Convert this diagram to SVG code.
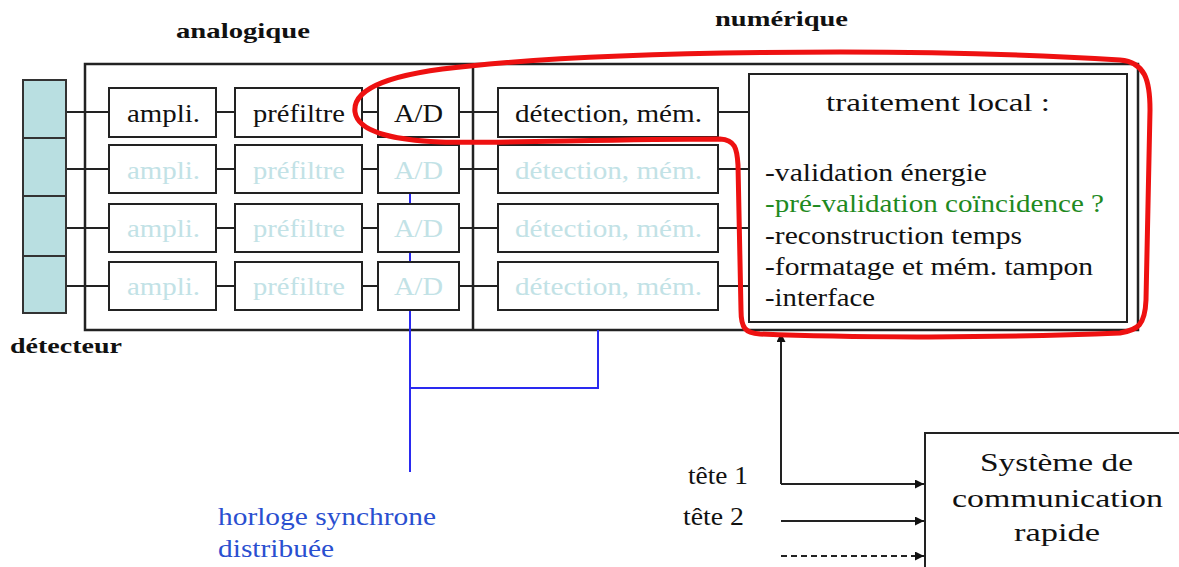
<svg xmlns="http://www.w3.org/2000/svg" width="1179" height="567" viewBox="0 0 1179 567">
<defs>
<style>
.t{font-family:"Liberation Serif","Times New Roman",serif;font-size:25px;fill:#111}
.lt{fill:#c2e2e6}
.b{font-weight:bold;font-size:22px}
.box{fill:#fff;stroke:#222;stroke-width:2}
.ln{stroke:#222;stroke-width:2;fill:none}
.blue{stroke:#2a2af0;stroke-width:2;fill:none}
.bt{fill:#2a4fd0}
.gr{fill:#1f8a1f}
</style>
<marker id="ah" viewBox="0 0 10 10" refX="10" refY="5" markerWidth="11" markerHeight="9" markerUnits="userSpaceOnUse" orient="auto">
<path d="M0,0 L10,5 L0,10 Z" fill="#111"/>
</marker>
</defs>
<rect width="1179" height="567" fill="#fff"/>

<g id="labels">
<text class="t b" x="176" y="38" textLength="134" lengthAdjust="spacingAndGlyphs">analogique</text>
<text class="t b" x="715" y="26" textLength="133" lengthAdjust="spacingAndGlyphs">numérique</text>
<text class="t b" x="10" y="353" textLength="112" lengthAdjust="spacingAndGlyphs">détecteur</text>
</g>

<g id="frame">
<rect x="85" y="64" width="1053" height="266" fill="#fff" stroke="#222" stroke-width="2.5"/>
<line x1="473" y1="64" x2="473" y2="330" stroke="#222" stroke-width="2.5"/>
</g>

<g id="connectors">
<g class="ln">
<path d="M66,112H109M216,112H235M362,112H378M459,112H498M718,112H749"/>
<path d="M66,169H109M216,169H235M362,169H378M459,169H498M718,169H749"/>
<path d="M66,228H109M216,228H235M362,228H378M459,228H498M718,228H749"/>
<path d="M66,286H109M216,286H235M362,286H378M459,286H498M718,286H749"/>
</g>
<path class="blue" d="M410,193V472M410,388H598V330"/>
<path class="ln" d="M781,484V333" marker-end="url(#ah)"/>
<path class="ln" d="M781,484H924" marker-end="url(#ah)"/>
<path class="ln" d="M781,521H924" marker-end="url(#ah)"/>
<path class="ln" d="M781,556H924" stroke-dasharray="6,4" marker-end="url(#ah)"/>
</g>

<g id="detecteur">
<rect x="23" y="80" width="43" height="233" fill="#b9dfe1" stroke="#333" stroke-width="2"/>
<path d="M23,138H66M23,196H66M23,256H66" stroke="#333" stroke-width="2"/>
</g>

<g id="row1">
<rect class="box" x="109" y="88" width="107" height="49"/>
<rect class="box" x="235" y="88" width="127" height="49"/>
<rect class="box" x="378" y="88" width="81" height="49"/>
<rect class="box" x="498" y="88" width="220" height="49"/>
<text class="t" x="127" y="122" textLength="73" lengthAdjust="spacingAndGlyphs">ampli.</text>
<text class="t" x="253" y="122" textLength="92" lengthAdjust="spacingAndGlyphs">préfiltre</text>
<text class="t" x="394" y="122" textLength="49" lengthAdjust="spacingAndGlyphs">A/D</text>
<text class="t" x="515" y="122" textLength="187" lengthAdjust="spacingAndGlyphs">détection, mém.</text>
</g>
<g id="row2">
<rect class="box" x="109" y="145" width="107" height="48"/>
<rect class="box" x="235" y="145" width="127" height="48"/>
<rect class="box" x="378" y="145" width="81" height="48"/>
<rect class="box" x="498" y="145" width="220" height="48"/>
<text class="t lt" x="127" y="179" textLength="73" lengthAdjust="spacingAndGlyphs">ampli.</text>
<text class="t lt" x="253" y="179" textLength="92" lengthAdjust="spacingAndGlyphs">préfiltre</text>
<text class="t lt" x="394" y="179" textLength="49" lengthAdjust="spacingAndGlyphs">A/D</text>
<text class="t lt" x="515" y="179" textLength="187" lengthAdjust="spacingAndGlyphs">détection, mém.</text>
</g>
<g id="row3">
<rect class="box" x="109" y="204" width="107" height="48"/>
<rect class="box" x="235" y="204" width="127" height="48"/>
<rect class="box" x="378" y="204" width="81" height="48"/>
<rect class="box" x="498" y="204" width="220" height="48"/>
<text class="t lt" x="127" y="237" textLength="73" lengthAdjust="spacingAndGlyphs">ampli.</text>
<text class="t lt" x="253" y="237" textLength="92" lengthAdjust="spacingAndGlyphs">préfiltre</text>
<text class="t lt" x="394" y="237" textLength="49" lengthAdjust="spacingAndGlyphs">A/D</text>
<text class="t lt" x="515" y="237" textLength="187" lengthAdjust="spacingAndGlyphs">détection, mém.</text>
</g>
<g id="row4">
<rect class="box" x="109" y="262" width="107" height="48"/>
<rect class="box" x="235" y="262" width="127" height="48"/>
<rect class="box" x="378" y="262" width="81" height="48"/>
<rect class="box" x="498" y="262" width="220" height="48"/>
<text class="t lt" x="127" y="295" textLength="73" lengthAdjust="spacingAndGlyphs">ampli.</text>
<text class="t lt" x="253" y="295" textLength="92" lengthAdjust="spacingAndGlyphs">préfiltre</text>
<text class="t lt" x="394" y="295" textLength="49" lengthAdjust="spacingAndGlyphs">A/D</text>
<text class="t lt" x="515" y="295" textLength="187" lengthAdjust="spacingAndGlyphs">détection, mém.</text>
</g>

<g id="traitement">
<rect class="box" x="749" y="74" width="378" height="248"/>
<text class="t" x="826" y="111" font-size="28" textLength="224" lengthAdjust="spacingAndGlyphs">traitement local :</text>
<text class="t" x="765" y="181" font-size="24" textLength="222" lengthAdjust="spacingAndGlyphs">-validation énergie</text>
<text class="t gr" x="765" y="212" font-size="24" textLength="339" lengthAdjust="spacingAndGlyphs">-pré-validation coïncidence ?</text>
<text class="t" x="765" y="244" font-size="24" textLength="257" lengthAdjust="spacingAndGlyphs">-reconstruction temps</text>
<text class="t" x="765" y="275" font-size="24" textLength="328" lengthAdjust="spacingAndGlyphs">-formatage et mém. tampon</text>
<text class="t" x="765" y="306" font-size="24" textLength="110" lengthAdjust="spacingAndGlyphs">-interface</text>
</g>

<g id="horloge">
<text class="t bt" x="218" y="525" textLength="218" lengthAdjust="spacingAndGlyphs">horloge synchrone</text>
<text class="t bt" x="218" y="557" textLength="116" lengthAdjust="spacingAndGlyphs">distribuée</text>
</g>

<g id="tetes">
<text class="t" x="688" y="484" font-size="23" textLength="60" lengthAdjust="spacingAndGlyphs">tête 1</text>
<text class="t" x="683" y="525" font-size="23" textLength="61" lengthAdjust="spacingAndGlyphs">tête 2</text>
</g>

<g id="systeme">
<rect class="box" x="925" y="433" width="270" height="150"/>
<text class="t" x="980" y="471" font-size="29" textLength="153" lengthAdjust="spacingAndGlyphs">Système de</text>
<text class="t" x="952" y="507" font-size="29" textLength="211" lengthAdjust="spacingAndGlyphs">communication</text>
<text class="t" x="1014" y="541" font-size="29" textLength="86" lengthAdjust="spacingAndGlyphs">rapide</text>
</g>

<g id="surlignage">
<path d="M355,112 C352,88 392,73 470,66 C600,52 900,46 1120,60 C1145,62 1150,80 1150,110 L1146,300 C1145,325 1138,330 1120,333 C1000,338 850,338 760,334 C745,333 741,328 741,310 L738,165 C737,148 735,140 720,139 C600,139 500,144 440,142 C400,140 358,134 355,112 Z" fill="none" stroke="#ee1111" stroke-width="5" stroke-linejoin="round"/>
</g>
</svg>
